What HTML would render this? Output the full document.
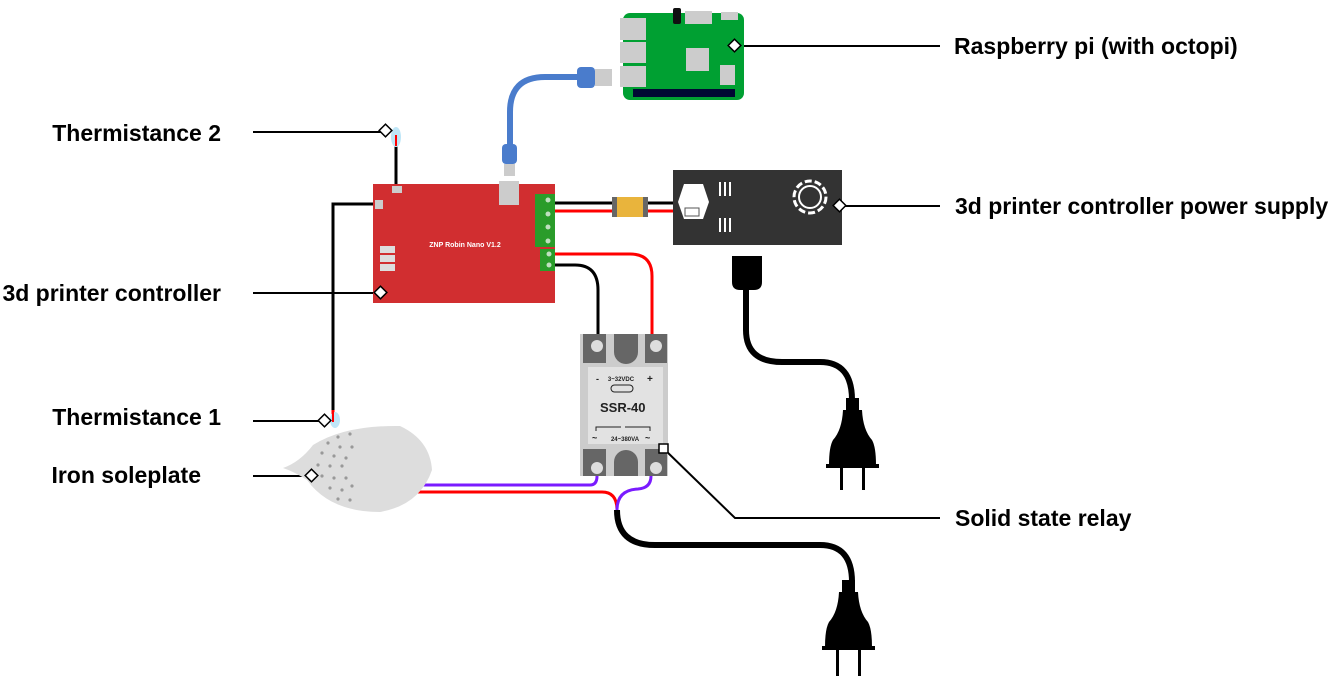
<!DOCTYPE html>
<html><head><meta charset="utf-8"><style>
html,body{margin:0;padding:0;background:#fff;}
svg{display:block;}
text{font-family:"Liberation Sans",Arial,sans-serif;font-weight:bold;}
</style></head><body>
<svg width="1335" height="676" viewBox="0 0 1335 676" xmlns="http://www.w3.org/2000/svg">
<!-- labels -->
<g font-size="23" fill="#000">
<text x="221" y="141" text-anchor="end">Thermistance 2</text>
<text x="221" y="301" text-anchor="end">3d printer controller</text>
<text x="221" y="425" text-anchor="end">Thermistance 1</text>
<text x="201" y="483" text-anchor="end">Iron soleplate</text>
<text x="954" y="54">Raspberry pi (with octopi)</text>
<text x="955" y="214">3d printer controller power supply</text>
<text x="955" y="526">Solid state relay</text>
</g>
<!-- leader lines -->
<g stroke="#000" stroke-width="2" fill="none">
<line x1="253" y1="132" x2="385" y2="132"/>
<line x1="253" y1="293" x2="380" y2="293"/>
<line x1="253" y1="421" x2="325" y2="421"/>
<line x1="253" y1="476" x2="312" y2="476"/>
<line x1="734" y1="46" x2="940" y2="46"/>
<line x1="840" y1="206" x2="940" y2="206"/>
<polyline points="663,448 735,518 940,518"/>
</g>

<!-- power cords -->
<g fill="none" stroke="#000" stroke-width="6">
<path d="M746,290 V330 Q746,362 782,362 H820 Q852,362 852,400"/>
<path d="M617,510 Q617,545 655,545 H820 Q852,545 852,582"/>
</g>
<path d="M732,256 H762 V282 Q762,290 754,290 H740 Q732,290 732,282 Z" fill="#000"/>
<g fill="#000">
<rect x="846" y="398" width="13" height="12"/>
<path d="M843,410 H862 Q863,430 872,440 Q876,447 876,465 H829 Q829,447 833,440 Q842,430 843,410 Z"/>
<rect x="826" y="464" width="53" height="4"/>
<rect x="840" y="468" width="3" height="22"/><rect x="862" y="468" width="3" height="22"/>
<rect x="842" y="580" width="13" height="12"/>
<path d="M839,592 H858 Q859,612 868,622 Q872,629 872,647 H825 Q825,629 829,622 Q838,612 839,592 Z"/>
<rect x="822" y="646" width="53" height="4"/>
<rect x="836" y="650" width="3" height="26"/><rect x="858" y="650" width="3" height="26"/>
</g>

<line x1="555" y1="203" x2="673" y2="203" stroke="#000" stroke-width="3"/>
<line x1="555" y1="211" x2="673" y2="211" stroke="#f00" stroke-width="3"/>
<rect x="612" y="197" width="36" height="20" fill="#666"/>
<rect x="617" y="197" width="26" height="20" fill="#e9b43c"/>
<path d="M555,254 H630 Q652,254 652,276 V334" fill="none" stroke="#f00" stroke-width="3"/>
<path d="M555,265 H575 Q598,265 598,290 V334" fill="none" stroke="#000" stroke-width="3"/>
<path d="M423,485 H590 Q597,485 597,476" fill="none" stroke="#7a1bff" stroke-width="3"/>
<path d="M417,492 H602 Q617,492 617,510" fill="none" stroke="#f00" stroke-width="3"/>
<path d="M651,476 Q651,488 638,489 Q617,490 617,510" fill="none" stroke="#7a1bff" stroke-width="3"/>
<path d="M373,204 H333 V410" fill="none" stroke="#000" stroke-width="3"/>
<line x1="333" y1="410" x2="333" y2="420" stroke="#f00" stroke-width="3"/>
<line x1="396" y1="145" x2="396" y2="184" stroke="#000" stroke-width="3"/>
<ellipse cx="396" cy="137" rx="5" ry="10" fill="#bfe6f7"/>
<line x1="396" y1="135" x2="396" y2="146" stroke="#f00" stroke-width="2"/>

<path d="M580,77 H545 Q510,77 510,112 V148" fill="none" stroke="#4a7ccc" stroke-width="6"/>
<rect x="577" y="67" width="18" height="21" rx="4" fill="#4a7ccc"/>
<rect x="595" y="69" width="17" height="17" fill="#ccc"/>
<rect x="502" y="144" width="15" height="20" rx="4" fill="#4a7ccc"/>
<rect x="504" y="164" width="11" height="12" fill="#ccc"/>

<rect x="623" y="13" width="121" height="87" rx="7" fill="#00a032"/>
<g fill="#ccc">
<rect x="620" y="18" width="26" height="22"/><rect x="620" y="42" width="26" height="21"/><rect x="620" y="66" width="26" height="21"/>
<rect x="685" y="11" width="27" height="13"/><rect x="721" y="12" width="17" height="8"/>
<rect x="686" y="48" width="23" height="23"/><rect x="720" y="65" width="15" height="20"/>
</g>
<rect x="673" y="8" width="8" height="16" rx="2" fill="#111"/>
<rect x="633" y="89" width="102" height="8" fill="#000833"/>

<rect x="373" y="184" width="182" height="119" fill="#d12e30"/>
<rect x="499" y="181" width="20" height="24" fill="#ccc"/>
<rect x="392" y="186" width="10" height="7" fill="#ccc"/>
<rect x="375" y="200" width="8" height="9" fill="#ccc"/>
<rect x="535" y="194" width="20" height="53" fill="#2a9c2a"/>
<rect x="540" y="249" width="15" height="22" fill="#2a9c2a"/>
<g fill="#bfe0bf"><circle cx="548" cy="200" r="2.5"/><circle cx="548" cy="214" r="2.5"/><circle cx="548" cy="227" r="2.5"/><circle cx="548" cy="241" r="2.5"/><circle cx="549" cy="254" r="2.5"/><circle cx="549" cy="265" r="2.5"/></g>
<text x="465" y="247" font-size="7" fill="#fff" text-anchor="middle">ZNP Robin Nano V1.2</text>
<g fill="#ddd"><rect x="380" y="246" width="15" height="7"/><rect x="380" y="255" width="15" height="7"/><rect x="380" y="264" width="15" height="7"/></g>

<rect x="673" y="170" width="169" height="75" fill="#333"/>
<path d="M684,184 H703 L709,202 L703,219 H684 L678,202 Z" fill="#fff"/>
<rect x="685" y="208" width="14" height="8" fill="#fff" stroke="#555" stroke-width="1"/>
<g stroke="#fff" stroke-width="2"><line x1="720" y1="182" x2="720" y2="196"/><line x1="725" y1="182" x2="725" y2="196"/><line x1="730" y1="182" x2="730" y2="196"/><line x1="720" y1="218" x2="720" y2="232"/><line x1="725" y1="218" x2="725" y2="232"/><line x1="730" y1="218" x2="730" y2="232"/></g>
<circle cx="810" cy="197" r="16" fill="none" stroke="#fff" stroke-width="3" stroke-dasharray="7 3"/>
<circle cx="810" cy="197" r="11" fill="none" stroke="#fff" stroke-width="2"/>

<rect x="580" y="334" width="88" height="142" fill="#ccc"/>
<g fill="#666"><rect x="583" y="334" width="23" height="29"/><rect x="645" y="334" width="22" height="29"/><rect x="583" y="449" width="23" height="27"/><rect x="645" y="449" width="22" height="27"/>
<path d="M614,334 H638 V352 A12,12 0 0 1 614,352 Z"/><path d="M614,476 V462 A12,12 0 0 1 638,462 V476 Z"/></g>
<g fill="#ddd"><circle cx="597" cy="346" r="6"/><circle cx="656" cy="346" r="6"/><circle cx="597" cy="468" r="6"/><circle cx="656" cy="468" r="6"/></g>
<rect x="588" y="367" width="75" height="77" fill="#e2e2e2"/>
<text x="621" y="381" font-size="6" text-anchor="middle" fill="#222">3~32VDC</text>
<text x="596" y="382" font-size="9" fill="#222">-</text><text x="647" y="382" font-size="10" fill="#222">+</text>
<rect x="611" y="385" width="22" height="7" rx="3.5" fill="none" stroke="#222" stroke-width="1"/>
<text x="600" y="412" font-size="13" fill="#222">SSR-40</text>
<text x="625" y="441" font-size="6" text-anchor="middle" fill="#222">24~380VA</text>
<text x="592" y="441" font-size="9" fill="#222">~</text><text x="645" y="441" font-size="9" fill="#222">~</text>
<path d="M596,431 V427 H621 M625,427 H650 V431" fill="none" stroke="#222" stroke-width="1"/>

<path d="M283,468 Q300,462 313,445 Q345,425 400,426 Q430,440 432,470 Q420,505 380,512 Q330,512 307,480 Q295,472 283,468 Z" fill="#ddd"/>
<ellipse cx="335" cy="420" rx="5" ry="8" fill="#bfe6f7"/>
<line x1="333" y1="412" x2="333" y2="422" stroke="#f00" stroke-width="2"/>
<g fill="#999">
<circle cx="338" cy="437" r="1.6"/><circle cx="350" cy="434" r="1.6"/><circle cx="328" cy="443" r="1.6"/><circle cx="340" cy="447" r="1.6"/><circle cx="352" cy="447" r="1.6"/>
<circle cx="322" cy="453" r="1.6"/><circle cx="334" cy="456" r="1.6"/><circle cx="346" cy="458" r="1.6"/><circle cx="318" cy="465" r="1.6"/><circle cx="330" cy="466" r="1.6"/><circle cx="342" cy="466" r="1.6"/>
<circle cx="322" cy="476" r="1.6"/><circle cx="334" cy="478" r="1.6"/><circle cx="346" cy="478" r="1.6"/><circle cx="330" cy="488" r="1.6"/><circle cx="342" cy="490" r="1.6"/><circle cx="352" cy="486" r="1.6"/><circle cx="338" cy="499" r="1.6"/><circle cx="350" cy="500" r="1.6"/>
</g>
<g fill="#fff" stroke="#000" stroke-width="1.5">
<rect x="381" y="126" width="9" height="9" transform="rotate(45 385.5 130.5)"/>
<rect x="376" y="288" width="9" height="9" transform="rotate(45 380.5 292.5)"/>
<rect x="320" y="416" width="9" height="9" transform="rotate(45 324.5 420.5)"/>
<rect x="307" y="471" width="9" height="9" transform="rotate(45 311.5 475.5)"/>
<rect x="730" y="41" width="9" height="9" transform="rotate(45 734.5 45.5)"/>
<rect x="835" y="201" width="9" height="9" transform="rotate(45 839.5 205.5)"/>
<rect x="659" y="444" width="9" height="9"/>
</g>
</svg>
</body></html>
